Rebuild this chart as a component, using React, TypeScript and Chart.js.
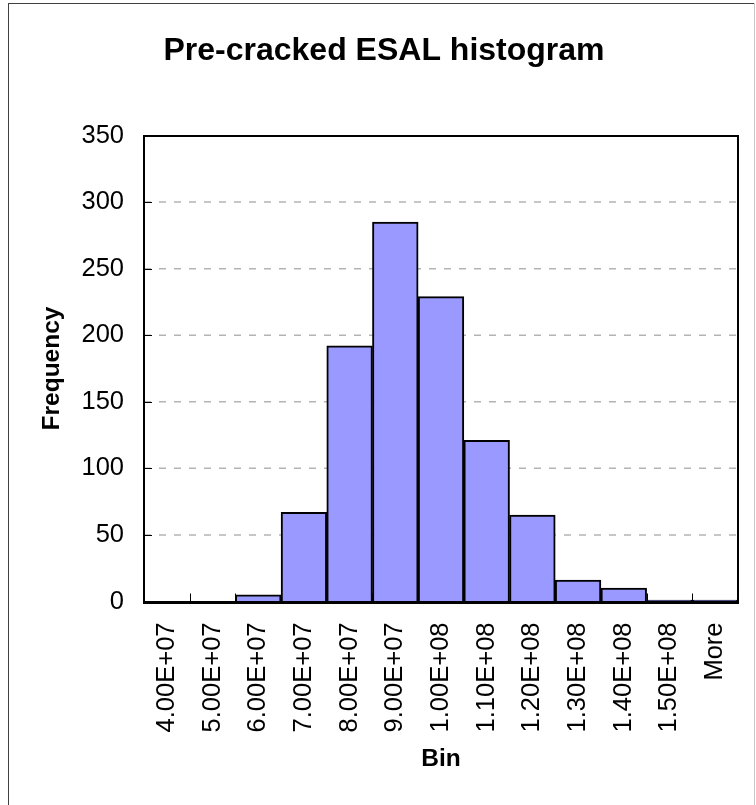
import React, { useEffect, useRef } from 'react';
import { Chart, registerables } from 'chart.js';

Chart.register(...registerables);

const binLabels = [
  '4.00E+07', '5.00E+07', '6.00E+07', '7.00E+07', '8.00E+07', '9.00E+07',
  '1.00E+08', '1.10E+08', '1.20E+08', '1.30E+08', '1.40E+08', '1.50E+08', 'More',
];
const frequencies = [0, 0, 5, 67, 192, 285, 229, 121, 65, 16, 10, 1, 1];
const yMin = 0;
const yMax = 350;
const yStep = 50;
const chartTitle = 'Pre-cracked ESAL histogram';
const xAxisTitle = 'Bin';
const yAxisTitle = 'Frequency';

const FONT = '"Liberation Sans", Arial, Helvetica, sans-serif';

function plotEdges(chart: any) {
  const xs = chart.scales.x;
  const ys = chart.scales.y;
  const n = binLabels.length;
  const p0 = xs.getPixelForTick(0);
  const p1 = xs.getPixelForTick(1);
  const pl = xs.getPixelForTick(n - 1);
  const half = (p1 - p0) / 2;
  return {
    l: p0 - half,
    r: pl + half,
    t: ys.getPixelForValue(yMax),
    b: ys.getPixelForValue(yMin),
  };
}

const framePlugin = {
  id: 'excelFrame',
  beforeDraw(chart: any) {
    const { ctx, width, height } = chart;
    ctx.save();
    ctx.fillStyle = '#ffffff';
    ctx.fillRect(0, 0, width, height);
    ctx.fillStyle = '#404040';
    ctx.fillRect(8, 3, 746, 1);
    ctx.fillRect(8, 3, 1, height - 3);
    ctx.fillStyle = '#c8c8c8';
    ctx.fillRect(754, 3, 1, height - 3);
    ctx.restore();
  },
  beforeDatasetsDraw(chart: any) {
    const { ctx } = chart;
    const xs = chart.scales.x;
    const ys = chart.scales.y;
    const { l, r, b } = plotEdges(chart);
    ctx.save();
    ctx.strokeStyle = '#b4b4b4';
    ctx.lineWidth = 1.5;
    ctx.setLineDash([7, 8]);
    ctx.beginPath();
    for (let v = yMin + yStep; v < yMax; v += yStep) {
      const py = ys.getPixelForValue(v);
      ctx.moveTo(l, py);
      ctx.lineTo(r, py);
    }
    ctx.stroke();
    ctx.setLineDash([]);
    ctx.strokeStyle = '#000';
    ctx.lineWidth = 1;
    ctx.beginPath();
    for (let v = yMin + yStep; v < yMax; v += yStep) {
      const py = Math.round(ys.getPixelForValue(v)) + 0.5;
      ctx.moveTo(l, py);
      ctx.lineTo(l + 8, py);
    }
    for (let i = 0; i < binLabels.length - 1; i++) {
      const px = Math.round((xs.getPixelForTick(i) + xs.getPixelForTick(i + 1)) / 2) + 0.5;
      ctx.moveTo(px, b);
      ctx.lineTo(px, b - 8);
    }
    ctx.stroke();
    ctx.restore();
  },
  afterDraw(chart: any) {
    const { ctx } = chart;
    const { l, r, t, b } = plotEdges(chart);
    const L = Math.round(l);
    const R = Math.round(r);
    const T = Math.round(t);
    const B = Math.round(b);
    ctx.save();
    ctx.fillStyle = '#000000';
    ctx.fillRect(L - 1, T - 1, 2, B - T + 2);
    ctx.fillRect(R - 1, T - 1, 2, B - T + 2);
    ctx.fillRect(L - 1, T - 1, R - L + 2, 2);
    ctx.fillRect(L - 1, B - 1, R - L + 2, 3);
    ctx.restore();
  },
};

export default function App() {
  const canvasRef = useRef<HTMLCanvasElement | null>(null);

  useEffect(() => {
    const canvas = canvasRef.current;
    if (!canvas) return;
    const chart = new Chart(canvas, {
      type: 'bar',
      data: {
        labels: binLabels,
        datasets: [
          {
            label: 'Frequency',
            data: frequencies,
            backgroundColor: '#9999FF',
            borderColor: '#000000',
            borderWidth: 2,
            barPercentage: 1,
            categoryPercentage: 1,
          },
        ],
      },
      options: {
        responsive: false,
        animation: false,
        devicePixelRatio: 1,
        layout: { autoPadding: false, padding: { left: 12, right: 0, top: 0, bottom: 0 } },
        plugins: {
          legend: { display: false },
          tooltip: { enabled: false },
          title: {
            display: true,
            text: chartTitle,
            color: '#000',
            font: { family: FONT, size: 32, weight: 'bold' },
            padding: { top: 32.3, bottom: 64.8 },
          },
        },
        scales: {
          x: {
            type: 'category',
            grid: { display: false, drawTicks: false },
            border: { display: false },
            ticks: {
              autoSkip: false,
              maxRotation: 90,
              minRotation: 90,
              padding: 21,
              color: '#000',
              font: { family: FONT, size: 25.5 },
            },
            title: {
              display: true,
              text: xAxisTitle,
              color: '#000',
              font: { family: FONT, size: 24.5, weight: 'bold' },
              padding: { top: 0, bottom: 31.3 },
            },
            afterFit: (scale: any) => {
              scale.height = 203.5;
              scale.paddingLeft = 0;
              scale.paddingRight = 18;
            },
          },
          y: {
            min: yMin,
            max: yMax,
            grid: { display: false, drawTicks: false },
            border: { display: false },
            ticks: {
              stepSize: yStep,
              padding: 20,
              color: '#000',
              font: { family: FONT, size: 25.5 },
            },
            title: {
              display: true,
              text: yAxisTitle,
              color: '#000',
              font: { family: FONT, size: 24.5, weight: 'bold' },
              padding: { top: 25.3, bottom: 0 },
            },
            afterFit: (scale: any) => {
              scale.width = 132;
            },
          },
        },
      },
      plugins: [framePlugin],
    });
    return () => chart.destroy();
  }, []);

  return (
    <div style={{ position: 'fixed', left: 0, top: 0, width: 756, height: 805 }}>
      <canvas ref={canvasRef} width={756} height={805} style={{ display: 'block', width: 756, height: 805 }} />
    </div>
  );
}
